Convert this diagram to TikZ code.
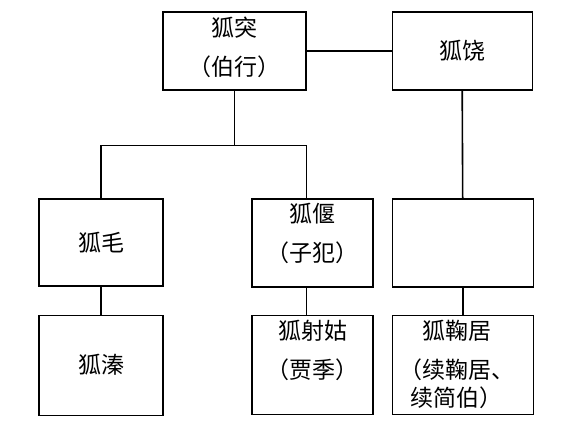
\documentclass[tikz,border=0pt]{standalone}
\usepackage{fontspec}
\newfontfamily\cjk{Noto Sans CJK SC}
\usetikzlibrary{positioning}

\begin{document}
\begin{tikzpicture}[x=1pt, y=-1pt,
            person/.style={rectangle, draw=black, line width=1.2pt, inner sep=0pt, font=\cjk\fontsize{23pt}{28pt}\selectfont},
            who/.style={align=center, inner sep=0pt, font=\cjk\fontsize{23pt}{28pt}\selectfont},
            tie/.style={-, line width=0.9pt},
            bold tie/.style={-, line width=1.6pt}
        ]
            \useasboundingbox (0,0) rectangle (586,424);
            \node[person, minimum width=143pt, minimum height=78pt](tu) at (234.5,51){};
            \node[who](tut)[below=5pt of tu.north]{狐突\\[11pt]（伯行）};
            \node[person, minimum width=140pt, minimum height=78pt](rao)[right=85pt of tu]{狐饶};
                \node[person, minimum width=124pt, minimum height=87pt](mao) at (101,242.5){狐毛};
                    \node[person, minimum width=124pt, minimum height=100pt](zhen)[below=28pt of mao]{狐溱};
                \node[person, minimum width=121pt, minimum height=88pt](yan) at (312.5,243){};
                \node[who](yant)[below=5pt of yan.north]{狐偃\\[11pt]（子犯）};
                    \node[person, minimum width=121pt, minimum height=99pt](yegu)[below=27pt of yan]{};
                    \node[who](yegut)[below=5pt of yegu.north]{狐射姑\\[11pt]（贾季）};
                \node[person, minimum width=141pt, minimum height=88pt](blank)[right=18pt of yan]{};
                    \node[person, minimum width=141pt, minimum height=99pt](juju)[below=27pt of blank]{};
                    \node[who](jujut)[below=5pt of juju.north, xshift=-6pt]{狐鞠居\\[11pt]（续鞠居、\\续简伯）};

            \coordinate (forkl) at (mao.north |- 0,145);
            \coordinate (forkr) at (tu.east |- 0,145);
            \draw[tie] (tu.south) -- (tu.south |- forkl);
            \draw[tie] (forkl) -- (forkr);
            \draw[bold tie] (forkl) -- (mao.north);
            \draw[tie] (forkr) -- (forkr |- yan.north);
            \draw[tie] (yan.south -| forkr) -- (yegu.north -| forkr);
            \draw[bold tie] (mao) -- (zhen);
            \draw[bold tie] (tu) -- (rao);
            \draw[bold tie] (rao.south) -- (blank.north);
            \draw[bold tie] (blank) -- (juju);
        \end{tikzpicture}
\end{document}
